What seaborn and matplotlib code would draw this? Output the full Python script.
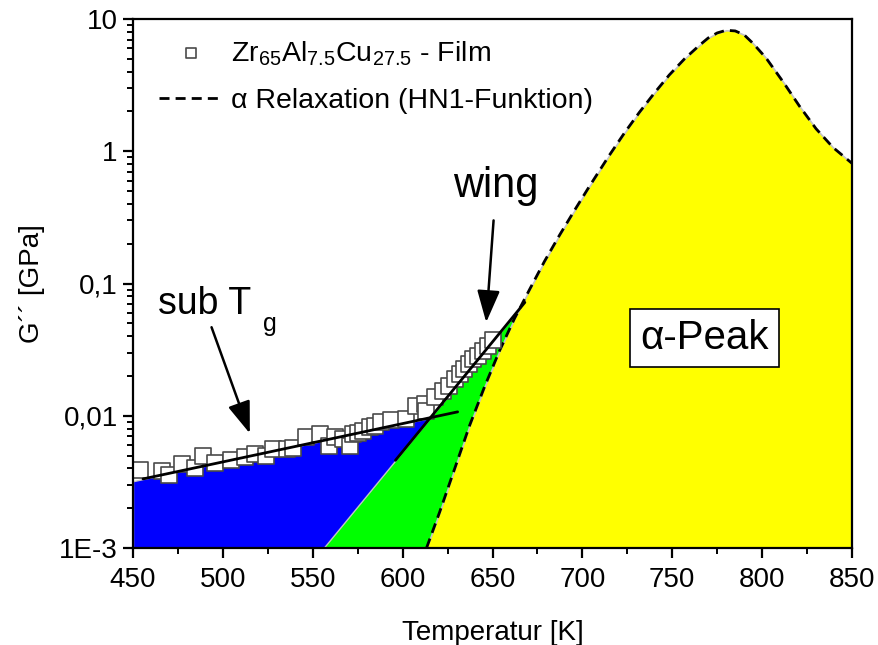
import matplotlib
matplotlib.use("Agg")
import matplotlib.pyplot as plt
from matplotlib.ticker import FixedLocator, FixedFormatter, LogLocator, MultipleLocator, NullFormatter
import seaborn as sns
import pandas as pd

# Measured loss modulus of the film
temp_data = [453.9, 466.0, 470.2, 477.0, 484.4, 488.7, 495.6, 504.8, 512.2, 517.8,
             523.9, 528.0, 535.4, 539.0, 546.5, 553.9, 559.1, 562.2, 566.9, 570.6,
             572.4, 575.2, 578.0, 581.7, 584.4, 588.1, 593.7, 602.0, 607.6, 612.2,
             613.0, 617.8, 622.4, 626.0, 628.9, 631.7, 634.4, 637.2, 639.0, 641.8,
             644.6, 647.4, 650.4]
g_data = [0.0039, 0.00383, 0.00357, 0.00432, 0.00402, 0.00498, 0.00443, 0.00461, 0.00488, 0.00512,
          0.00497, 0.0056, 0.0056, 0.00575, 0.00686, 0.00726, 0.00593, 0.00685, 0.00666, 0.00593,
          0.00726, 0.00747, 0.0077, 0.00815, 0.0084, 0.0089, 0.0093, 0.0094, 0.0119, 0.0123,
          0.0109, 0.0138, 0.0155, 0.0169, 0.019, 0.0207, 0.0226, 0.0247, 0.0269, 0.0285,
          0.031, 0.0339, 0.0375]

# alpha relaxation (HN1 fit)
temp_alpha = [613.3, 620.6, 628.9, 637.2, 645.6, 653.9, 662.2, 670.6, 678.9, 687.2,
              695.6, 703.9, 715.0, 723.3, 731.7, 740.0, 748.3, 756.7, 765.0, 770.0,
              775.0, 780.0, 785.0, 790.0, 795.0, 802.2, 812.2, 820.6, 830.0, 839.4,
              850.0]
g_alpha = [0.001, 0.00187, 0.00396, 0.0084, 0.0166, 0.031, 0.0543, 0.090, 0.147, 0.231,
           0.357, 0.543, 0.933, 1.37, 1.97, 2.75, 3.77, 4.98, 6.31, 7.19,
           7.85, 8.22, 8.13, 7.59, 6.53, 5.07, 3.27, 2.21, 1.48, 1.07,
           0.81]

# sub-Tg contribution (straight line in the log plot)
temp_subtg_fill = [450.0, 631.0]
g_subtg_fill = [0.0032, 0.0107]
temp_subtg_line = [455.6, 630.6]
g_subtg_line = [0.00333, 0.0107]

# wing contribution
temp_wing_fill = [556.0, 596.0, 668.0]
g_wing_fill = [0.001, 0.0046, 0.072]
temp_wing_line = [596.0, 668.0]
g_wing_line = [0.0046, 0.072]

x_ticks = [450, 500, 550, 600, 650, 700, 750, 800, 850]
y_ticks = [1e-3, 1e-2, 1e-1, 1, 10]
y_tick_labels = ["1E-3", "0,01", "0,1", "1", "10"]

sns.set_theme(style="white")
plt.rcParams["font.family"] = ["Liberation Sans", "DejaVu Sans"]
plt.rcParams["mathtext.fontset"] = "custom"
plt.rcParams["mathtext.rm"] = "Liberation Sans"
plt.rcParams["text.color"] = "black"
plt.rcParams["axes.labelcolor"] = "black"
plt.rcParams["xtick.color"] = "black"
plt.rcParams["ytick.color"] = "black"

fig = plt.figure(figsize=(8.79, 6.45), dpi=100)
ax = fig.add_axes([0.1513, 0.1504, 0.818, 0.8201])
ax.set_yscale("log")

edge = "#c4c4c4"
ax.fill_between(temp_subtg_fill, 1e-3, g_subtg_fill, facecolor="#0000ff",
                edgecolor=edge, lw=1, zorder=1)
ax.fill_between(temp_wing_fill, 1e-3, g_wing_fill, facecolor="#00ff00",
                edgecolor=edge, lw=1, zorder=2)

alpha_df = pd.DataFrame({"T": temp_alpha, "G": g_alpha})
ax.fill_between(alpha_df["T"], 1e-3, alpha_df["G"], facecolor="#ffff00",
                edgecolor=edge, lw=1.2, zorder=3)
sns.lineplot(data=alpha_df, x="T", y="G", ax=ax, color="black", lw=2.0,
             linestyle=(0, (3.6, 2.2)), sort=False, zorder=4)
alpha_line = ax.lines[-1]

film_df = pd.DataFrame({"T": temp_data, "G": g_data})
sns.scatterplot(data=film_df, x="T", y="G", ax=ax, marker="s", s=125,
                facecolor="white", edgecolor="#4a4a4a", linewidth=1.2, zorder=5)
film_pts = ax.collections[-1]

sns.lineplot(x=temp_subtg_line, y=g_subtg_line, ax=ax, color="black", lw=2.0, zorder=6)
sns.lineplot(x=temp_wing_line, y=g_wing_line, ax=ax, color="black", lw=2.0, zorder=6)

ax.set_xlim(450, 850)
ax.set_ylim(1e-3, 10)

# axis ticks
ax.xaxis.set_major_locator(FixedLocator(x_ticks))
ax.xaxis.set_minor_locator(MultipleLocator(25))
ax.yaxis.set_major_locator(FixedLocator(y_ticks))
ax.yaxis.set_major_formatter(FixedFormatter(y_tick_labels))
ax.yaxis.set_minor_locator(LogLocator(base=10, subs=range(2, 10)))
ax.yaxis.set_minor_formatter(NullFormatter())
ax.tick_params(axis="both", which="major", direction="out", length=7, width=1.6,
               labelsize=20, colors="black", bottom=True, left=True, top=False, right=False)
ax.tick_params(axis="x", which="major", pad=7)
ax.tick_params(axis="y", which="major", pad=4)
ax.tick_params(axis="both", which="minor", direction="out", length=4.5, width=1.4,
               bottom=True, left=True, top=False, right=False)
for sp in ax.spines.values():
    sp.set_color("black")
    sp.set_linewidth(1.6)
    sp.set_zorder(10)

ax.set_xlabel("Temperatur [K]", fontsize=20, labelpad=19)
ax.set_ylabel("G´´ [GPa]", fontsize=20, labelpad=10)

# annotations
ax.text(463.9, 0.0593, "sub T", fontsize=27, ha="left", va="baseline", zorder=8)
ax.text(522.2, 0.044, "g", fontsize=18, ha="left", va="baseline", zorder=8)
ax.annotate("", xy=(515.0, 0.00735), xytext=(493.7, 0.0467),
            arrowprops=dict(arrowstyle="-|>,head_length=0.7,head_width=0.25", color="black",
                            lw=1.8, mutation_scale=28, shrinkA=0, shrinkB=0), zorder=8)
ax.text(627.8, 0.451, "wing", fontsize=30, ha="left", va="baseline", zorder=8)
ax.annotate("", xy=(646.5, 0.0509), xytext=(650.6, 0.30),
            arrowprops=dict(arrowstyle="-|>,head_length=0.7,head_width=0.25", color="black",
                            lw=1.8, mutation_scale=28, shrinkA=0, shrinkB=0), zorder=8)
ax.text(768.0, 0.0386, "α-Peak", fontsize=29, ha="center", va="center", zorder=8,
        bbox=dict(boxstyle="square,pad=0.25", facecolor="white", edgecolor="black", lw=1.2))

leg = ax.legend(handles=[film_pts, alpha_line],
                labels=[r"Zr$_\mathregular{65}$Al$_\mathregular{7.5}$Cu$_\mathregular{27.5}$ - Film",
                        "α Relaxation (HN1-Funktion)"],
                loc="upper left", bbox_to_anchor=(0.009, 1.0), frameon=False,
                fontsize=20.5, markerscale=0.6, handlelength=2.2, handletextpad=0.32,
                labelspacing=0.72, borderaxespad=0.3)
leg.set_zorder(9)

fig.savefig("out.png", dpi=100)
